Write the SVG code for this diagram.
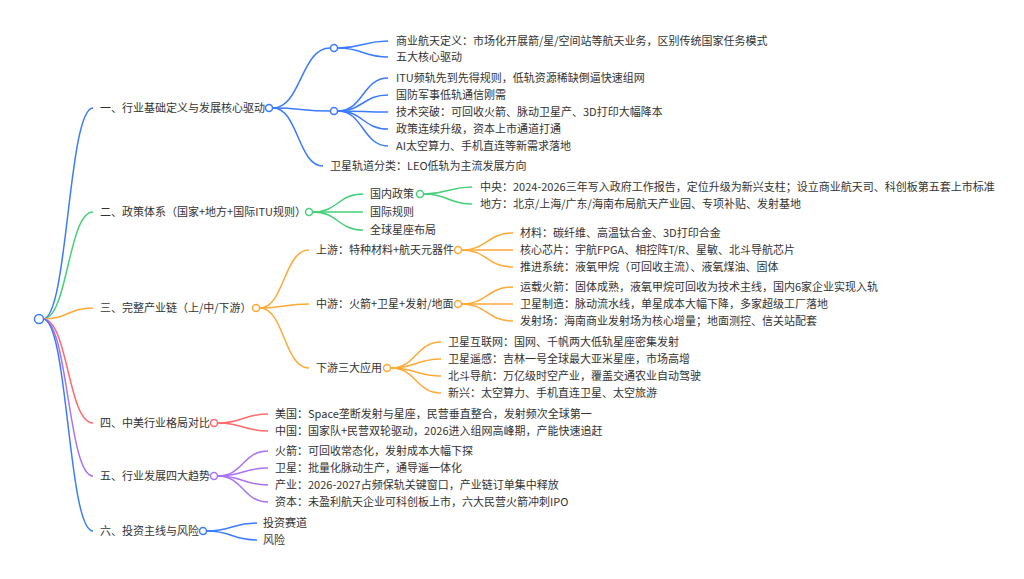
<svg xmlns="http://www.w3.org/2000/svg" width="1024" height="579" viewBox="0 0 1024 579">
<style>
text{font-family:"Noto Sans CJK SC","Noto Sans",sans-serif;font-size:11px;fill:#333}
.l{fill:none;stroke-width:1.5}
.c{fill:#fff;stroke-width:1.5}
.b{stroke:#3b7bff}.g{stroke:#45d07a}.o{stroke:#ffaa36}.r{stroke:#ff6b6b}.p{stroke:#ad72ef}
</style>
<rect width="1024" height="579" fill="#fff"/>
<g id="connectors">
<!-- root -->
<path class="l b" d="M43,319 C68,319 68,108 93,108"/>
<path class="l g" d="M43,319 C68,319 68,212 93,212"/>
<path class="l o" d="M43,319 C68,319 68,308 93,308"/>
<path class="l r" d="M43,319 C68,319 68,423 93,423"/>
<path class="l p" d="M43,319 C68,319 68,476 93,476"/>
<path class="l b" d="M43,319 C68,319 68,531 93,531"/>
<!-- section 1 -->
<path class="l b" d="M273,108 C301,108 301,48 330,48"/>
<path class="l b" d="M273,108 C301,108 301,111 330,111"/>
<path class="l b" d="M273,108 C298,108 298,166 323,166"/>
<path class="l b" d="M338,48 C363,48 363,41 388,41"/>
<path class="l b" d="M338,48 C363,48 363,57 388,57"/>
<path class="l b" d="M338,111 C363,111 363,78 388,78"/>
<path class="l b" d="M338,111 C363,111 363,95 388,95"/>
<path class="l b" d="M338,111 C363,111 363,112 388,112"/>
<path class="l b" d="M338,111 C363,111 363,129 388,129"/>
<path class="l b" d="M338,111 C363,111 363,146 388,146"/>
<!-- section 2 -->
<path class="l g" d="M313,212 C338,212 338,194 363,194"/>
<path class="l g" d="M313,212 C338,212 338,212 363,212"/>
<path class="l g" d="M313,212 C338,212 338,230 363,230"/>
<path class="l g" d="M424,194 C448,194 448,187 472,187"/>
<path class="l g" d="M424,194 C448,194 448,204 472,204"/>
<!-- section 3 -->
<path class="l o" d="M260,308 C284,308 284,250 309,250"/>
<path class="l o" d="M260,308 C284,308 284,304 309,304"/>
<path class="l o" d="M260,308 C284,308 284,368 309,368"/>
<path class="l o" d="M462,250 C487,250 487,233 513,233"/>
<path class="l o" d="M462,250 C487,250 487,250 513,250"/>
<path class="l o" d="M462,250 C487,250 487,267 513,267"/>
<path class="l o" d="M462,304 C487,304 487,287 513,287"/>
<path class="l o" d="M462,304 C487,304 487,304 513,304"/>
<path class="l o" d="M462,304 C487,304 487,321 513,321"/>
<path class="l o" d="M391,368 C416,368 416,342 441,342"/>
<path class="l o" d="M391,368 C416,368 416,359 441,359"/>
<path class="l o" d="M391,368 C416,368 416,376 441,376"/>
<path class="l o" d="M391,368 C416,368 416,393 441,393"/>
<!-- section 4 -->
<path class="l r" d="M218,423 C243,423 243,414 268,414"/>
<path class="l r" d="M218,423 C243,423 243,431 268,431"/>
<!-- section 5 -->
<path class="l p" d="M218,476 C243,476 243,451 268,451"/>
<path class="l p" d="M218,476 C243,476 243,468 268,468"/>
<path class="l p" d="M218,476 C243,476 243,485 268,485"/>
<path class="l p" d="M218,476 C243,476 243,502 268,502"/>
<!-- section 6 -->
<path class="l b" d="M207,531 C232,531 232,523 257,523"/>
<path class="l b" d="M207,531 C232,531 232,540 257,540"/>
</g>
<g id="root"><circle class="c b" cx="39" cy="319" r="4.5"/></g>
<g id="n1">
<text x="100" y="112">一、行业基础定义与发展核心驱动</text>
<circle class="c b" cx="269" cy="108" r="3.5"/>
</g>
<g id="n1a"><circle class="c b" cx="334" cy="48" r="3.5"/></g>
<g id="n1a1"><text x="396" y="45">商业航天定义：市场化开展箭/星/空间站等航天业务，区别传统国家任务模式</text></g>
<g id="n1a2"><text x="396" y="61">五大核心驱动</text></g>
<g id="n1b"><circle class="c b" cx="334" cy="111" r="3.5"/></g>
<g id="n1b1"><text x="396" y="82">ITU频轨先到先得规则，低轨资源稀缺倒逼快速组网</text></g>
<g id="n1b2"><text x="396" y="99">国防军事低轨通信刚需</text></g>
<g id="n1b3"><text x="396" y="116">技术突破：可回收火箭、脉动卫星产、3D打印大幅降本</text></g>
<g id="n1b4"><text x="396" y="133">政策连续升级，资本上市通道打通</text></g>
<g id="n1b5"><text x="396" y="150">AI太空算力、手机直连等新需求落地</text></g>
<g id="n1c"><text x="330" y="170">卫星轨道分类：LEO低轨为主流发展方向</text></g>
<g id="n2">
<text x="100" y="216">二、政策体系（国家+地方+国际ITU规则）</text>
<circle class="c g" cx="309" cy="212" r="3.5"/>
</g>
<g id="n2a"><text x="370" y="198">国内政策</text><circle class="c g" cx="420" cy="194" r="3.5"/></g>
<g id="n2a1"><text x="480" y="191">中央：2024-2026三年写入政府工作报告，定位升级为新兴支柱；设立商业航天司、科创板第五套上市标准</text></g>
<g id="n2a2"><text x="480" y="208">地方：北京/上海/广东/海南布局航天产业园、专项补贴、发射基地</text></g>
<g id="n2b"><text x="370" y="216">国际规则</text></g>
<g id="n2c"><text x="370" y="234">全球星座布局</text></g>
<g id="n3">
<text x="100" y="312">三、完整产业链（上/中/下游）</text>
<circle class="c o" cx="256" cy="308" r="3.5"/>
</g>
<g id="n3a"><text x="316" y="254">上游：特种材料+航天元器件</text><circle class="c o" cx="458" cy="250" r="3.5"/></g>
<g id="n3a1"><text x="520" y="237">材料：碳纤维、高温钛合金、3D打印合金</text></g>
<g id="n3a2"><text x="520" y="254">核心芯片：宇航FPGA、相控阵T/R、星敏、北斗导航芯片</text></g>
<g id="n3a3"><text x="520" y="271">推进系统：液氧甲烷（可回收主流）、液氧煤油、固体</text></g>
<g id="n3b"><text x="316" y="308">中游：火箭+卫星+发射/地面</text><circle class="c o" cx="458" cy="304" r="3.5"/></g>
<g id="n3b1"><text x="520" y="291">运载火箭：固体成熟，液氧甲烷可回收为技术主线，国内6家企业实现入轨</text></g>
<g id="n3b2"><text x="520" y="308">卫星制造：脉动流水线，单星成本大幅下降，多家超级工厂落地</text></g>
<g id="n3b3"><text x="520" y="325">发射场：海南商业发射场为核心增量；地面测控、信关站配套</text></g>
<g id="n3c"><text x="316" y="372">下游三大应用</text><circle class="c o" cx="387" cy="368" r="3.5"/></g>
<g id="n3c1"><text x="448" y="346">卫星互联网：国网、千帆两大低轨星座密集发射</text></g>
<g id="n3c2"><text x="448" y="363">卫星遥感：吉林一号全球最大亚米星座，市场高增</text></g>
<g id="n3c3"><text x="448" y="380">北斗导航：万亿级时空产业，覆盖交通农业自动驾驶</text></g>
<g id="n3c4"><text x="448" y="397">新兴：太空算力、手机直连卫星、太空旅游</text></g>
<g id="n4">
<text x="100" y="427">四、中美行业格局对比</text>
<circle class="c r" cx="214" cy="423" r="3.5"/>
</g>
<g id="n4a"><text x="275" y="418">美国：Space垄断发射与星座，民营垂直整合，发射频次全球第一</text></g>
<g id="n4b"><text x="275" y="435">中国：国家队+民营双轮驱动，2026进入组网高峰期，产能快速追赶</text></g>
<g id="n5">
<text x="100" y="480">五、行业发展四大趋势</text>
<circle class="c p" cx="214" cy="476" r="3.5"/>
</g>
<g id="n5a"><text x="275" y="455">火箭：可回收常态化，发射成本大幅下探</text></g>
<g id="n5b"><text x="275" y="472">卫星：批量化脉动生产，通导遥一体化</text></g>
<g id="n5c"><text x="275" y="489">产业：2026-2027占频保轨关键窗口，产业链订单集中释放</text></g>
<g id="n5d"><text x="275" y="506">资本：未盈利航天企业可科创板上市，六大民营火箭冲刺IPO</text></g>
<g id="n6">
<text x="100" y="535">六、投资主线与风险</text>
<circle class="c b" cx="203" cy="531" r="3.5"/>
</g>
<g id="n6a"><text x="263" y="527">投资赛道</text></g>
<g id="n6b"><text x="263" y="544">风险</text></g>
</svg>
